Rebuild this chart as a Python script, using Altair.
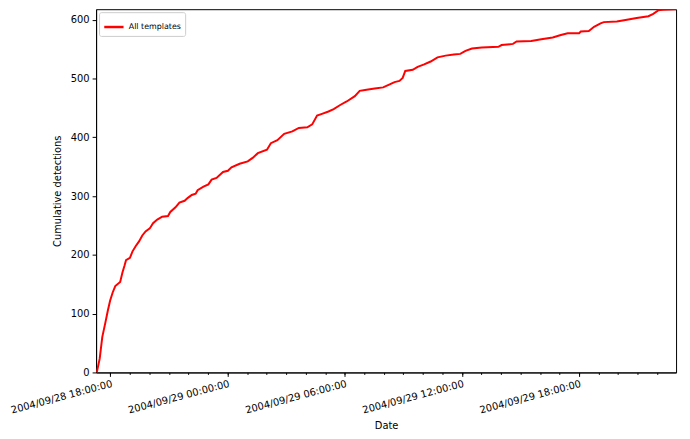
import altair as alt
import pandas as pd

# Times (2004-09-28 / 2004-09-29) and cumulative detections
times = [
    "2004-09-28T17:18", "2004-09-28T17:27", "2004-09-28T17:35", "2004-09-28T17:45",
    "2004-09-28T17:52", "2004-09-28T17:59", "2004-09-28T18:07", "2004-09-28T18:15",
    "2004-09-28T18:30", "2004-09-28T18:37", "2004-09-28T18:43", "2004-09-28T18:48",
    "2004-09-28T19:00", "2004-09-28T19:08", "2004-09-28T19:18", "2004-09-28T19:28",
    "2004-09-28T19:38", "2004-09-28T19:48", "2004-09-28T20:01", "2004-09-28T20:11",
    "2004-09-28T20:24", "2004-09-28T20:39", "2004-09-28T20:57", "2004-09-28T21:04",
    "2004-09-28T21:20", "2004-09-28T21:32", "2004-09-28T21:48", "2004-09-28T21:58",
    "2004-09-28T22:10", "2004-09-28T22:22", "2004-09-28T22:28", "2004-09-28T22:46",
    "2004-09-28T23:01", "2004-09-28T23:11", "2004-09-28T23:26", "2004-09-28T23:46",
    "2004-09-29T00:01", "2004-09-29T00:12", "2004-09-29T00:37", "2004-09-29T01:02",
    "2004-09-29T01:17", "2004-09-29T01:33", "2004-09-29T02:01", "2004-09-29T02:13",
    "2004-09-29T02:33", "2004-09-29T02:54", "2004-09-29T03:19", "2004-09-29T03:39",
    "2004-09-29T04:05", "2004-09-29T04:20", "2004-09-29T04:35", "2004-09-29T04:50",
    "2004-09-29T05:10", "2004-09-29T05:26", "2004-09-29T05:46", "2004-09-29T06:06",
    "2004-09-29T06:31", "2004-09-29T06:46", "2004-09-29T07:07", "2004-09-29T07:32",
    "2004-09-29T07:58", "2004-09-29T08:18", "2004-09-29T08:33", "2004-09-29T08:48",
    "2004-09-29T08:58", "2004-09-29T09:06", "2004-09-29T09:29", "2004-09-29T09:44",
    "2004-09-29T10:04", "2004-09-29T10:24", "2004-09-29T10:45", "2004-09-29T11:10",
    "2004-09-29T11:35", "2004-09-29T11:55", "2004-09-29T12:11", "2004-09-29T12:31",
    "2004-09-29T13:01", "2004-09-29T13:52", "2004-09-29T14:02", "2004-09-29T14:37",
    "2004-09-29T14:48", "2004-09-29T15:33", "2004-09-29T16:04", "2004-09-29T16:39",
    "2004-09-29T17:04", "2004-09-29T17:25", "2004-09-29T18:00", "2004-09-29T18:05",
    "2004-09-29T18:30", "2004-09-29T18:46", "2004-09-29T19:06", "2004-09-29T19:16",
    "2004-09-29T19:56", "2004-09-29T20:27", "2004-09-29T20:57", "2004-09-29T21:33",
    "2004-09-29T21:48", "2004-09-29T22:03", "2004-09-29T22:18", "2004-09-29T22:58",
]
detections = [
    0, 23, 60, 86, 105, 122, 136, 147,
    154, 170, 181, 191, 195, 206, 215, 223,
    233, 240, 245, 254, 260, 265, 266, 273,
    281, 289, 292, 297, 302, 304, 310, 316,
    320, 328, 331, 341, 343, 349, 355, 359,
    365, 373, 379, 390, 395, 406, 410, 416,
    417, 422, 437, 440, 444, 448, 455, 461,
    470, 479, 481, 483, 485, 490, 494, 496,
    501, 513, 515, 520, 524, 529, 536, 539,
    541, 542, 547, 551, 553, 554, 557, 559,
    563, 564, 567, 570, 574, 577, 577, 580,
    581, 588, 594, 596, 597, 600, 603, 606,
    610, 616, 617, 618,
]
series_name = "All templates"
major_hours = [(28, 18), (29, 0), (29, 6), (29, 12), (29, 18)]
minor_hours = [(28, h) for h in range(18, 24)] + [(29, h) for h in range(0, 23)]
y_ticks = [0, 100, 200, 300, 400, 500, 600]

df = pd.DataFrame({"time": times, "count": detections, "series": series_name})

def dt(d, h, m=0, s=0):
    return alt.DateTime(year=2004, month=9, date=d, hours=h, minutes=m, seconds=s)

xscale = alt.Scale(domain=[dt(28, 17, 16), dt(29, 22, 58)], nice=False)
font = "DejaVu Sans"

main = alt.Chart(df).mark_line(strokeWidth=2, clip=True).encode(
    x=alt.X("time:T", scale=xscale, title="Date",
            axis=alt.Axis(values=[dt(d, h) for d, h in major_hours],
                          format="%Y/%m/%d %H:%M:%S", labelAngle=345,
                          labelAlign="right", labelBaseline="top",
                          orient="bottom", grid=False, tickSize=4,
                          labelPadding=2, titlePadding=6)),
    y=alt.Y("count:Q", scale=alt.Scale(domain=[0, 618], nice=False),
            title="Cumulative detections",
            axis=alt.Axis(values=y_ticks, grid=False, tickSize=4,
                          labelPadding=3, titlePadding=8)),
    color=alt.Color("series:N",
                    scale=alt.Scale(domain=[series_name], range=["red"]),
                    legend=alt.Legend(title=None, orient="top-left",
                                      symbolType="stroke", symbolSize=380,
                                      symbolStrokeWidth=2.5,
                                      labelFontSize=8, strokeColor="#cccccc",
                                      fillColor="white", padding=4,
                                      cornerRadius=2, offset=3)),
)

minor = alt.Chart(df).mark_line(opacity=0).encode(
    x=alt.X("time:T", scale=xscale, title=None,
            axis=alt.Axis(values=[dt(d, h) for d, h in minor_hours],
                          labels=False, domain=False, grid=False,
                          tickSize=2, orient="bottom")),
)

chart = alt.layer(main, minor).resolve_axis(x="independent").properties(
    width=586, height=367,
    autosize=alt.AutoSizeParams(type="none"),
    padding={"left": 89, "top": -1, "right": 6, "bottom": 60},
).configure_view(stroke="black", strokeWidth=1).configure_axis(
    domainColor="black", tickColor="black", labelColor="black",
    titleColor="black", labelFont=font, titleFont=font,
    labelFontSize=10, titleFontSize=10, titleFontWeight="normal",
).configure_legend(labelFont=font, labelColor="black")

chart.save("out.html", embed_options={"renderer": "svg", "actions": False})
